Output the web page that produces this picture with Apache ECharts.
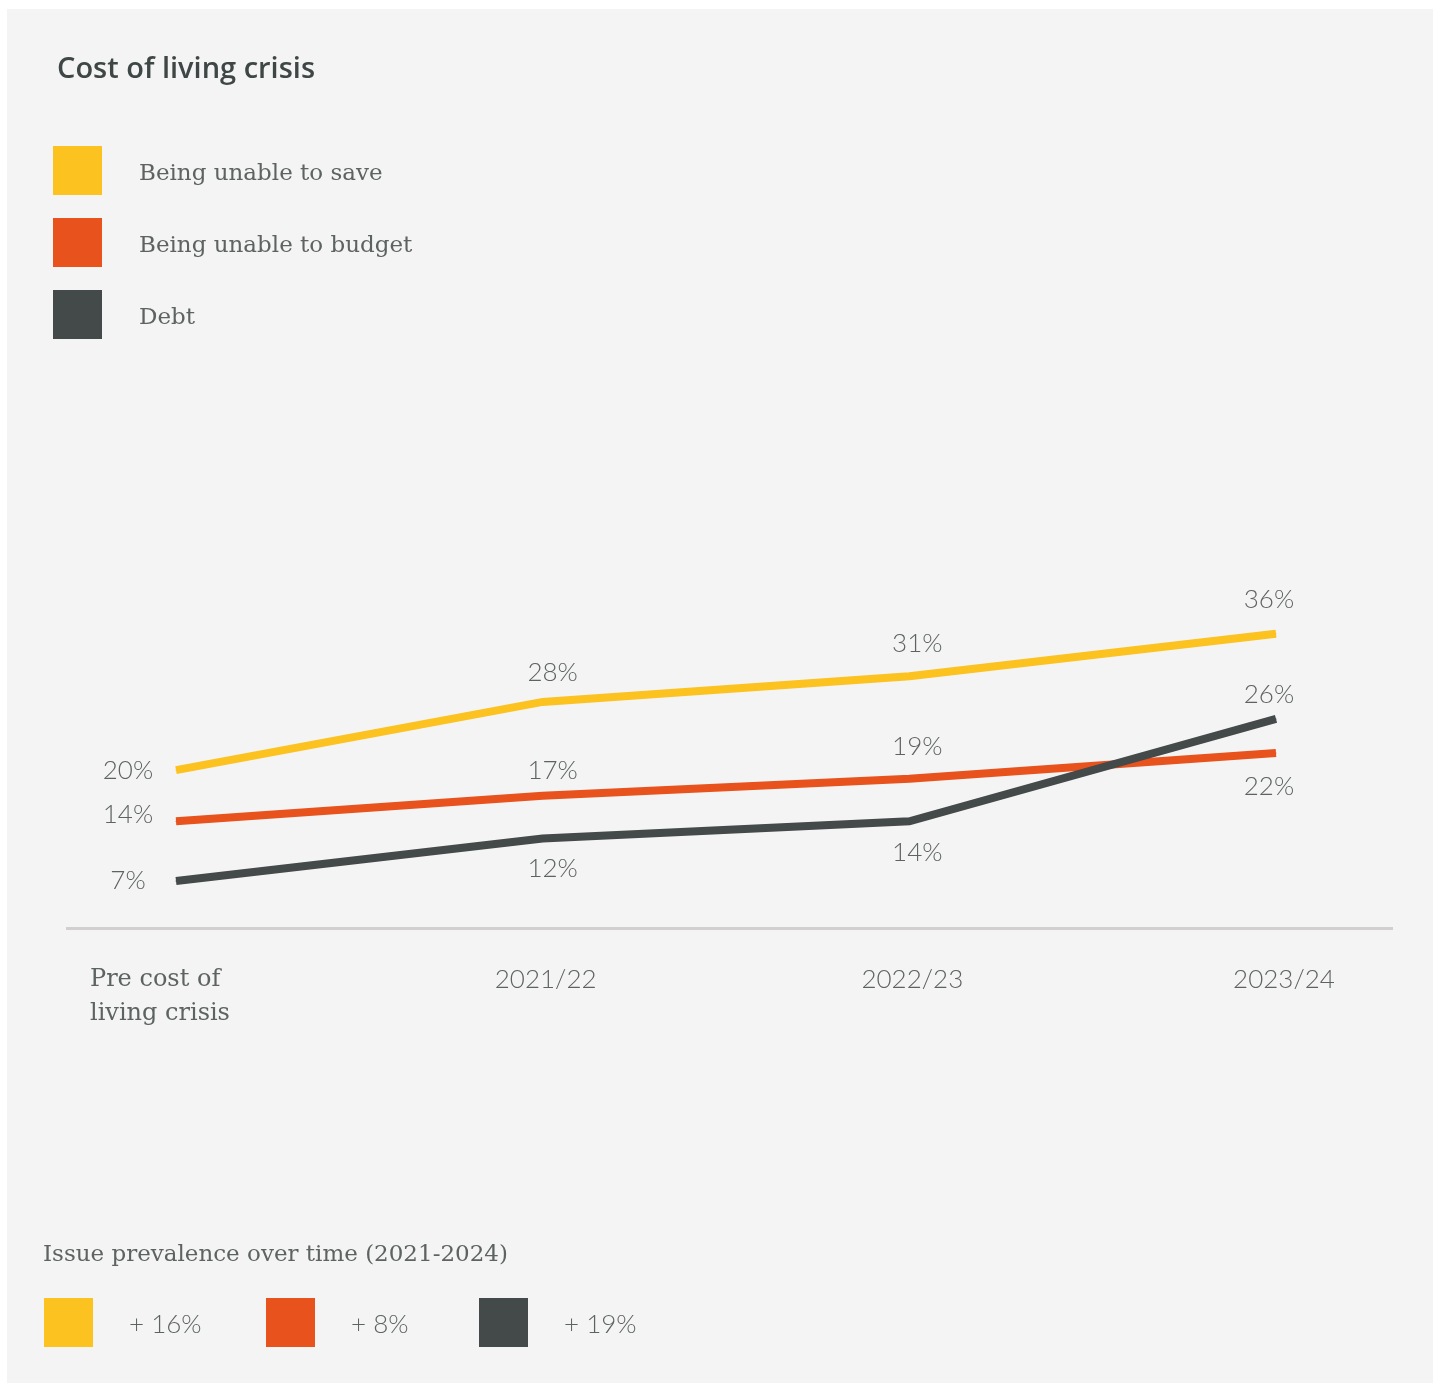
<!DOCTYPE html>
<html>
<head>
<meta charset="utf-8">
<title>Cost of living crisis</title>
<script src="https://cdn.jsdelivr.net/npm/echarts@6/dist/echarts.min.js"></script>
<style>
  html, body { margin: 0; padding: 0; background: #ffffff; }
  #chart { width: 1439px; height: 1383px; }
</style>
</head>
<body>
<div id="chart"></div>
<script>
// Periods on the x axis
const periods = ['Pre cost of\nliving crisis', '2021/22', '2022/23', '2023/24'];

// Share of people reporting each issue (%)
const unableToSave = [20, 28, 31, 36];
const unableToBudget = [14, 17, 19, 22];
const debt = [7, 12, 14, 26];

const seriesNames = ['Being unable to save', 'Being unable to budget', 'Debt'];
const seriesColors = ['#FCC220', '#E8521D', '#434A49'];

// Label placement around each point: [dx, dy] from the point
const labelOffsets = [
  [[-48, 0], [10, -29], [8, -33], [-7, -34]],
  [[-48, -7], [10, -25], [8, -32], [-7, 34]],
  [[-48, 0], [10, 30], [8, 31], [-7, -24]]
];

const SERIF = '"DejaVu Serif", serif';
const SANS_LIGHT = 'Lato, "Open Sans", sans-serif';
const TEXT_GREY = '#5d6362';

function buildData(values, offsets) {
  return values.map((v, i) => ({
    value: v,
    label: { offset: offsets[i] }
  }));
}

const allSeries = [unableToSave, unableToBudget, debt].map((values, k) => ({
  name: seriesNames[k],
  type: 'line',
  data: buildData(values, labelOffsets[k]),
  symbol: 'circle',
  symbolSize: 1,
  showSymbol: true,
  lineStyle: { width: 8, color: seriesColors[k], cap: 'butt', join: 'miter' },
  itemStyle: { color: seriesColors[k] },
  emphasis: { disabled: true },
  z: 3 + k,
  label: {
    show: true,
    position: 'inside',
    formatter: p => p.value + '%',
    fontFamily: SANS_LIGHT,
    fontWeight: 300,
    fontSize: 26,
    color: TEXT_GREY
  }
}));

// Change from the first period to the latest, per issue
const changes = [unableToSave, unableToBudget, debt].map(a => a[a.length - 1] - a[0]);
const changeSquareX = [44, 266, 479];

const graphics = [
  {
    type: 'rect',
    shape: { x: 7, y: 9, width: 1426, height: 1380 },
    style: { fill: '#F4F4F4' },
    z: -10,
    silent: true
  },
  {
    type: 'line',
    shape: { x1: 66, y1: 928.5, x2: 1393, y2: 928.5 },
    style: { stroke: '#D3CFCF', lineWidth: 3 },
    z: 1,
    silent: true
  }
];
changes.forEach((c, i) => {
  graphics.push({
    type: 'rect',
    shape: { x: changeSquareX[i], y: 1298, width: 49, height: 49 },
    style: { fill: seriesColors[i] },
    silent: true
  });
  graphics.push({
    type: 'text',
    x: changeSquareX[i] + 85,
    y: 1325,
    style: {
      text: '+ ' + c + '%',
      fontFamily: SANS_LIGHT,
      fontWeight: 300,
      fontSize: 26,
      fill: TEXT_GREY,
      verticalAlign: 'middle',
      align: 'left'
    },
    silent: true
  });
});

const chart = echarts.init(document.getElementById('chart'), null, { renderer: 'canvas' });
chart.setOption({
  backgroundColor: '#ffffff',
  animation: false,
  title: [
    {
      text: 'Cost of living crisis',
      left: 57,
      top: 53,
      padding: 0,
      textStyle: {
        fontFamily: '"Open Sans", sans-serif',
        fontWeight: 600,
        fontSize: 29,
        lineHeight: 34,
        color: '#3F4746'
      }
    },
    {
      text: 'Issue prevalence over time (2021-2024)',
      left: 43,
      top: 1238,
      padding: 0,
      textStyle: {
        fontFamily: SERIF,
        fontWeight: 'normal',
        fontSize: 23,
        lineHeight: 34,
        color: TEXT_GREY
      }
    }
  ],
  legend: {
    data: seriesNames,
    orient: 'vertical',
    left: 53,
    top: 146,
    padding: 0,
    icon: 'rect',
    itemWidth: 49,
    itemHeight: 49,
    itemGap: 23,
    selectedMode: false,
    formatter: name => '{a|' + name + '}',
    textStyle: {
      fontFamily: SERIF,
      fontSize: 23,
      color: TEXT_GREY,
      padding: [0, 0, 0, 32],
      rich: {
        a: {
          fontFamily: SERIF,
          fontSize: 23,
          color: TEXT_GREY,
          padding: [8, 0, 0, 0]
        }
      }
    }
  },
  grid: {
    left: 176,
    right: 163,
    top: 591,
    bottom: 455,
    containLabel: false
  },
  xAxis: {
    type: 'category',
    data: periods,
    boundaryGap: false,
    axisLine: { show: false },
    axisTick: { show: false },
    splitLine: { show: false },
    axisLabel: {
      margin: 35,
      interval: 0,
      formatter: (value, idx) => {
        if (idx === 0) {
          return value.split('\n').map(s => '{p|' + s + '}').join('\n');
        }
        return '{d' + idx + '|' + value + '}';
      },
      rich: {
        p: {
          fontFamily: SERIF,
          fontSize: 24,
          lineHeight: 34,
          color: TEXT_GREY,
          width: 172,
          align: 'left'
        },
        d1: {
          fontFamily: SANS_LIGHT,
          fontWeight: 300,
          fontSize: 26,
          lineHeight: 34,
          color: TEXT_GREY,
          padding: [0, 0, 0, 6]
        },
        d2: {
          fontFamily: SANS_LIGHT,
          fontWeight: 300,
          fontSize: 26,
          lineHeight: 34,
          color: TEXT_GREY,
          padding: [0, 0, 0, 6]
        },
        d3: {
          fontFamily: SANS_LIGHT,
          fontWeight: 300,
          fontSize: 26,
          lineHeight: 34,
          color: TEXT_GREY,
          padding: [0, 0, 0, 16]
        }
      }
    }
  },
  yAxis: {
    type: 'value',
    min: 1.5,
    max: 41,
    show: false,
    splitLine: { show: false }
  },
  series: allSeries,
  graphic: graphics
});
</script>
</body>
</html>
